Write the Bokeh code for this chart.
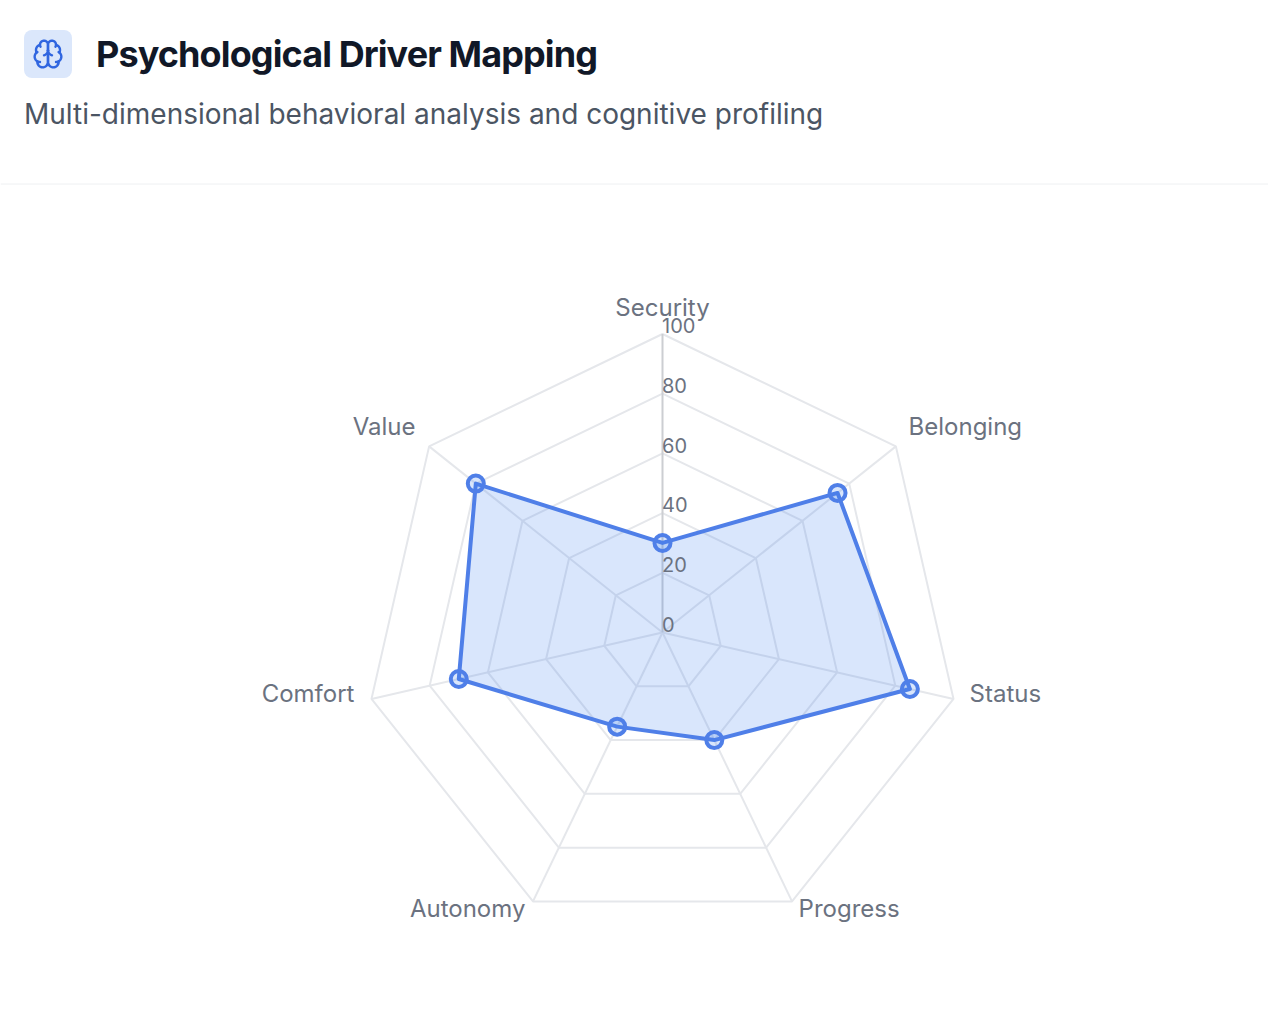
import math
from bokeh.plotting import figure
from bokeh.layouts import column
from bokeh.models import Div
from bokeh.embed import file_html
from bokeh.resources import INLINE
from bokeh.core.properties import value

TITLE = "Psychological Driver Mapping"
SUBTITLE = "Multi-dimensional behavioral analysis and cognitive profiling"
categories = ["Security", "Belonging", "Status", "Progress", "Autonomy", "Comfort", "Value"]
scores = [30, 75, 85, 40, 35, 70, 80]
ticks = [0, 20, 40, 60, 80, 100]

W, H = 1268, 1020
CX, CY, R = 662, 632, 298.5
K = R / 100
FONT = "Inter"

p = figure(width=W, height=H, x_range=(-CX / K, (W - CX) / K), y_range=((CY - H) / K, CY / K),
           output_backend="svg", toolbar_location=None, min_border=0,
           outline_line_color=None, background_fill_color="white", border_fill_color="white")
p.axis.visible = False
p.grid.visible = False


def dx(px):
    return (px - CX) / K


def dy(py):
    return (CY - py) / K


def polar(v, i):
    a = 2 * math.pi * i / len(categories)
    return v * math.sin(a), v * math.cos(a)


# header
p.quad(left=[dx(23.5)], right=[dx(71.5)], top=[dy(29.5)], bottom=[dy(77.5)], fill_color="#dbe7fb",
       line_color=None, border_radius=8)
p.segment(x0=[dx(0)], x1=[dx(1268)], y0=[dy(183.5)], y1=[dy(183.5)], line_color="#eef0f2", line_width=1)


def arc_pts(x1, y1, rx, large, sweep, x2, y2, n=24):
    ddx, ddy = (x1 - x2) / 2, (y1 - y2) / 2
    lam = (ddx * ddx + ddy * ddy) / (rx * rx)
    if lam > 1:
        rx *= math.sqrt(lam)
    num = max(0.0, rx ** 4 - rx * rx * (ddx * ddx + ddy * ddy))
    den = rx * rx * (ddx * ddx + ddy * ddy)
    c = math.sqrt(num / den) * (-1 if large == sweep else 1)
    cxp, cyp = c * ddy, -c * ddx
    cx, cy = cxp + (x1 + x2) / 2, cyp + (y1 + y2) / 2
    t1 = math.atan2((ddy - cyp) / rx, (ddx - cxp) / rx)
    t2 = math.atan2((-ddy - cyp) / rx, (-ddx - cxp) / rx)
    d = t2 - t1
    if sweep and d < 0:
        d += 2 * math.pi
    if not sweep and d > 0:
        d -= 2 * math.pi
    return [(cx + rx * math.cos(t1 + d * j / n), cy + rx * math.sin(t1 + d * j / n)) for j in range(1, n + 1)]


# brain icon outline, (start, [(radius, large, sweep, end x, end y), ...]) in a 24-unit box
BRAIN = [
    ((12, 5), [(3, 1, 0, 6.003, 5.125), (4, 0, 0, 3.477, 10.895), (4, 0, 0, 4.033, 17.483), (4, 1, 0, 12, 18)], True),
    ((12, 5), [(3, 1, 1, 17.997, 5.125), (4, 0, 1, 20.523, 10.895), (4, 0, 1, 19.967, 17.483), (4, 1, 1, 12, 18)], True),
    ((15, 13), [(4.5, 0, 1, 12, 9), (4.5, 0, 1, 9, 13)], False),
    ((17.599, 6.5), [(3, 0, 0, 17.998, 5.125)], False),
    ((6.003, 5.125), [(3, 0, 0, 6.401, 6.5)], False),
    ((3.477, 10.896), [(4, 0, 1, 4.062, 10.5)], False),
    ((19.938, 10.5), [(4, 0, 1, 20.523, 10.896)], False),
    ((6, 18), [(4, 0, 1, 4.033, 17.484)], False),
    ((19.967, 17.484), [(4, 0, 1, 18, 18)], False),
]
IS = 32 / 24
IX, IY = 31.5, 37.5
xs, ys = [], []
for start, arcs, closed in BRAIN:
    pts = [start]
    for r, la, sw, ex, ey in arcs:
        pts += arc_pts(pts[-1][0], pts[-1][1], r, la, sw, ex, ey)
    if closed:
        pts.append(start)
    xs.append([dx(IX + IS * a) for a, b in pts])
    ys.append([dy(IY + IS * b) for a, b in pts])
p.multi_line(xs, ys, line_color="#3066e0", line_width=2.4, line_join="round", line_cap="round")

p.text(x=[dx(23.5)], y=[dy(113.3)], text=[SUBTITLE], text_font=value(FONT), text_font_size="28px",
       text_color="#4b5563", text_baseline="middle", text_align="left")

# grid
n = len(categories)
for t in ticks[1:]:
    pts = [polar(t, i) for i in range(n)]
    p.patch([a for a, _ in pts], [b for _, b in pts], fill_color=None, line_color="#e5e7eb", line_width=2)
for i in range(1, n):
    a, b = polar(ticks[-1], i)
    p.segment(x0=[0], y0=[0], x1=[a], y1=[b], line_color="#e5e7eb", line_width=2)
p.segment(x0=[0], y0=[0], x1=[0], y1=[ticks[-1]], line_color="#ccced2", line_width=2)

# series
pts = [polar(s, i) for i, s in enumerate(scores)]
sx, sy = [a for a, _ in pts], [b for _, b in pts]
p.patch(sx, sy, fill_color="#3f80f2", fill_alpha=0.2, line_color="#4f7fe8", line_width=4, line_join="round")
p.scatter(sx, sy, marker="circle", size=16, fill_color="#3f80f2", fill_alpha=0.2,
          line_color="#4f7fe8", line_width=4)

# tick labels
p.text(x=[0] * len(ticks), y=ticks, text=[str(t) for t in ticks], text_font=value(FONT),
       text_font_size="20px", text_color="#6b7280", text_baseline="middle", text_align="left",
       x_offset=-0.5, y_offset=-8.4)

# category labels
LABEL_R = 316 / K
for i, c in enumerate(categories):
    a, b = polar(LABEL_R, i)
    align = "center" if abs(a) < 1e-6 else ("left" if a > 0 else "right")
    p.text(x=[a], y=[b], text=[c], text_font=value(FONT), text_font_size="24px", text_color="#6b7280",
           text_baseline="middle", text_align=align, x_offset=-1 if a > 0 else 0, y_offset=-9.2)

title = Div(text=TITLE, width=700, height=44, margin=0,
            styles={"position": "absolute", "left": "96px", "top": "32px",
                    "font-family": "Inter", "font-size": "36px", "font-weight": "700", "line-height": "44px",
                    "letter-spacing": "-0.9px", "color": "#111827", "white-space": "nowrap"})

page = column(p, title, spacing=0)
open("out.html", "w").write(file_html(page, INLINE))
